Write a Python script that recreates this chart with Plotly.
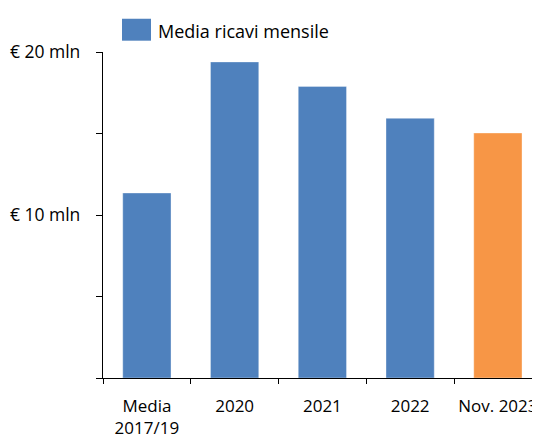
import plotly.graph_objects as go

categories = ["Media<br>2017/19", "2020", "2021", "2022", "Nov. 2023"]
values = [11.35, 19.39, 17.89, 15.93, 15.03]
bar_colors = ["#4F81BD", "#4F81BD", "#4F81BD", "#4F81BD", "#F79646"]
y_tickvals = [0, 5, 10, 15, 20]
y_ticktext = ["", "", "€ 10 mln", "", "€ 20 mln"]
legend_label = "Media ricavi mensile"

FONT = "Open Sans"

fig = go.Figure()
fig.add_trace(go.Bar(
    x=categories,
    y=values,
    marker=dict(color=bar_colors, line=dict(color="rgba(255,255,255,0.35)", width=1)),
    width=0.55,
    showlegend=False,
    hoverinfo="skip",
))

# the page body adds an 8px margin, so the figure is shifted to compensate
fig.update_layout(
    width=540,
    height=426,
    margin=dict(l=95, r=8, t=44, b=56, autoexpand=False),
    paper_bgcolor="white",
    plot_bgcolor="white",
    font=dict(family=FONT, size=18, color="#000000"),
    showlegend=False,
    xaxis=dict(
        type="category",
        range=[-0.5, 4.48],
        showline=True,
        linecolor="#000000",
        linewidth=1.3,
        ticks="outside",
        tickson="boundaries",
        ticklen=5,
        tickcolor="#000000",
        tickwidth=1.3,
        showgrid=False,
        tickangle=0,
        automargin=False,
        ticklabelstandoff=12,
        tickfont=dict(family=FONT, size=17, color="#000000"),
    ),
    yaxis=dict(
        range=[0, 20],
        tickvals=y_tickvals,
        ticktext=y_ticktext,
        showline=True,
        linecolor="#000000",
        linewidth=1.3,
        ticks="outside",
        ticklen=6,
        tickcolor="#000000",
        tickwidth=1.3,
        showgrid=False,
        zeroline=False,
        automargin=False,
        ticklabelstandoff=12,
        tickfont=dict(family=FONT, size=17.5, color="#000000"),
    ),
    shapes=[dict(
        type="rect", xref="paper", yref="paper",
        x0=0.0435, x1=0.1098, y0=1.0347, y1=1.102,
        fillcolor="#4F81BD", line=dict(width=0),
    )],
    annotations=[dict(
        text=legend_label, xref="paper", yref="paper",
        x=0.121, y=1.0638, xanchor="left", yanchor="middle",
        showarrow=False, font=dict(family=FONT, size=18, color="#000000"),
    )],
)

fig.write_html("out.html")
